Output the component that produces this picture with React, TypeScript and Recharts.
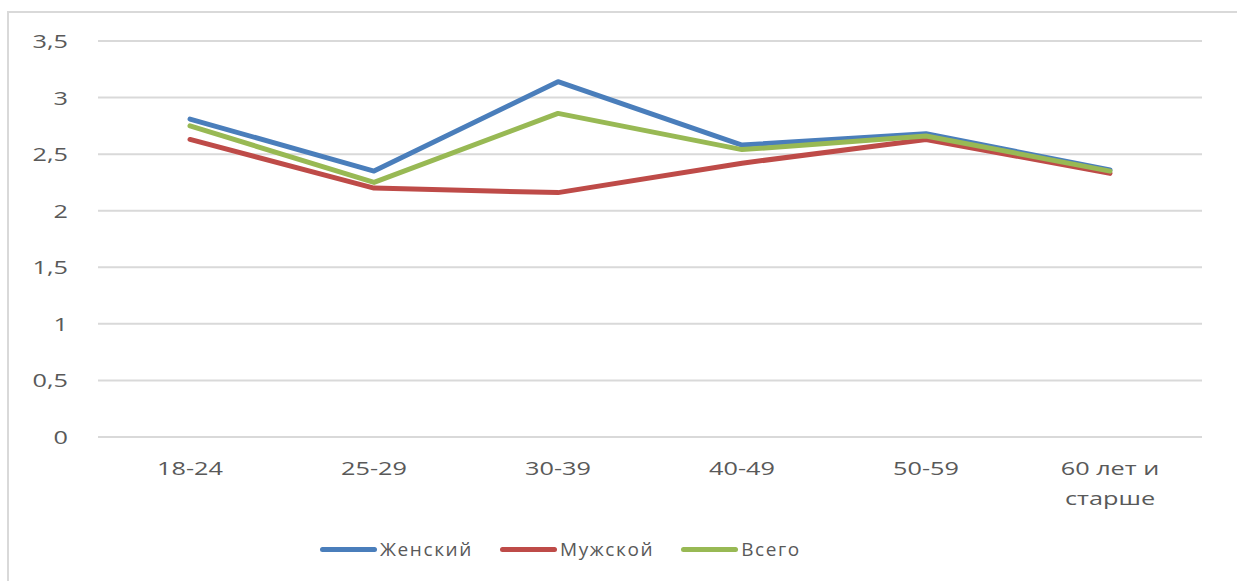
import React from "react";
import { LineChart, Line, CartesianGrid, XAxis, YAxis, Legend } from "recharts";

const ageGroups = ["18-24", "25-29", "30-39", "40-49", "50-59", "60 лет и старше"];
const female = [2.81, 2.35, 3.14, 2.58, 2.68, 2.36];
const male = [2.63, 2.2, 2.16, 2.42, 2.63, 2.33];
const total = [2.75, 2.25, 2.86, 2.54, 2.66, 2.35];
const yTicks = [0, 0.5, 1, 1.5, 2, 2.5, 3, 3.5];

const seriesList = [
	{ key: "female", name: "Женский", color: "#4a7ebb" },
	{ key: "male", name: "Мужской", color: "#be4b48" },
	{ key: "total", name: "Всего", color: "#98b954" },
];

const data = ageGroups.map((g, i) => ({
	name: g,
	female: female[i],
	male: male[i],
	total: total[i],
}));

const FONT = "'Open Sans', sans-serif";
const TEXT = "#595959";
const STRETCH = 1.33;

const XTick = (props: any) => {
	const { x, y, payload } = props;
	const label: string = payload.value;
	const lines = label === "60 лет и старше" ? ["60 лет и", "старше"] : [label];
	return (
		<g transform={`translate(${x},${y}) scale(${STRETCH},1)`}>
			{lines.map((l, i) => (
				<text
					key={i}
					x={0}
					y={0}
					dy={38 + i * 30}
					textAnchor="middle"
					fill={TEXT}
					fontSize={19}
					fontFamily={FONT}
				>
					{l}
				</text>
			))}
		</g>
	);
};

const YTick = (props: any) => {
	const { x, y, payload } = props;
	return (
		<g transform={`translate(${x},${y}) scale(${STRETCH},1)`}>
			<text x={0} y={0} dy={7} textAnchor="end" fill={TEXT} fontSize={19} fontFamily={FONT}>
				{String(payload.value).replace(".", ",")}
			</text>
		</g>
	);
};

const LegendContent = () => (
	<div style={{ display: "flex", alignItems: "center", fontFamily: FONT, fontSize: 19, color: TEXT }}>
		{seriesList.map((s) => (
			<div key={s.key} style={{ display: "flex", alignItems: "center", marginRight: 27 }}>
				<span
					style={{
						display: "inline-block",
						width: 57,
						height: 5,
						borderRadius: 3,
						background: s.color,
						marginRight: 3,
					}}
				/>
				<span style={{ letterSpacing: 1.6 }}>{s.name}</span>
			</div>
		))}
	</div>
);

export default function App() {
	return (
		<div style={{ position: "absolute", left: 0, top: 0, width: 1237, height: 581, overflow: "hidden", background: "#fff" }}>
			<div
				style={{
					position: "absolute",
					left: 7,
					top: 11,
					width: 1240,
					height: 600,
					border: "2px solid #d9d9d9",
					boxSizing: "border-box",
				}}
			/>
			<div style={{ position: "absolute", left: 0, top: 0 }}>
				<LineChart width={1237} height={581} data={data} margin={{ top: 41, right: 35, bottom: 64, left: 0 }}>
					<CartesianGrid vertical={false} stroke="#d9d9d9" strokeWidth={2} />
					<XAxis
						dataKey="name"
						scale="band"
						axisLine={false}
						tickLine={false}
						tickSize={0}
						tickMargin={0}
						height={80}
						interval={0}
						tick={<XTick />}
					/>
					<YAxis
						domain={[0, 3.5]}
						ticks={yTicks}
						axisLine={false}
						tickLine={false}
						tickSize={0}
						tickMargin={30}
						width={98}
						tick={<YTick />}
					/>
					<Legend
						layout="horizontal"
						verticalAlign="middle"
						align="center"
						content={<LegendContent />}
						wrapperStyle={{ top: 536, left: 320, width: 700 }}
					/>
					{seriesList.map((s) => (
						<Line
							key={s.key}
							dataKey={s.key}
							name={s.name}
							stroke={s.color}
							strokeWidth={5}
							strokeLinecap="round"
							strokeLinejoin="round"
							dot={false}
							activeDot={false}
							isAnimationActive={false}
						/>
					))}
				</LineChart>
			</div>
		</div>
	);
}
